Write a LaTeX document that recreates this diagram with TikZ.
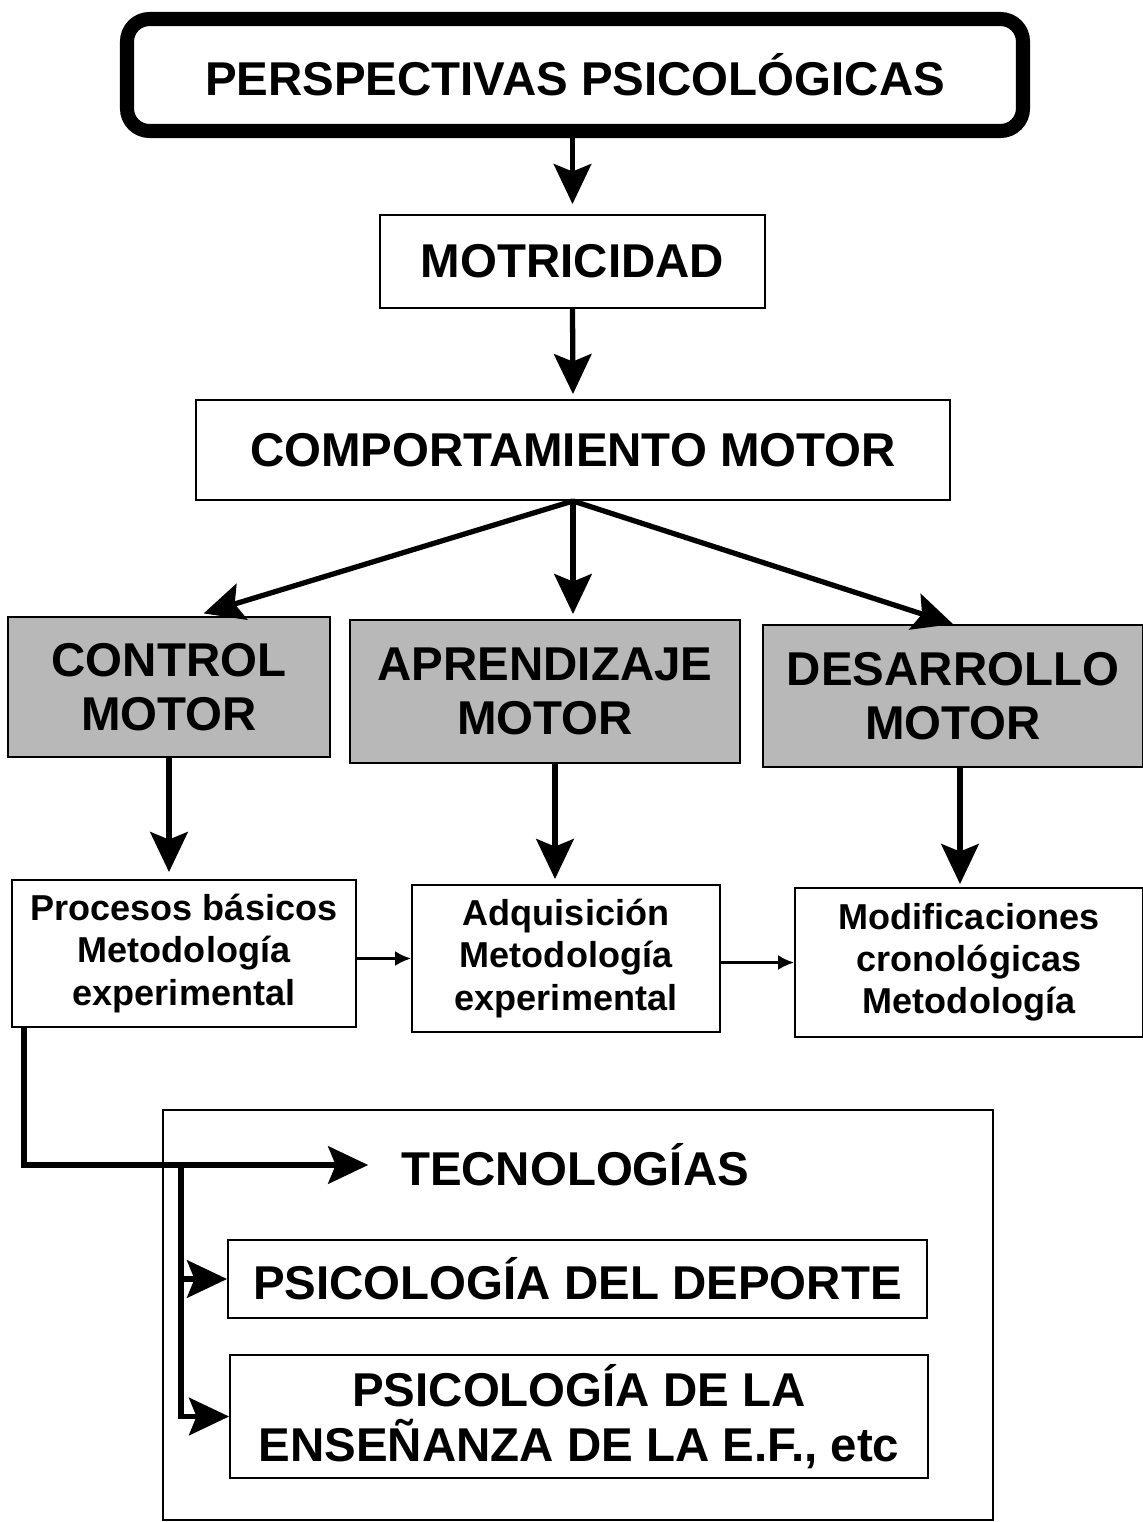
\documentclass[tikz,border=0pt]{standalone}
\usepackage{fontspec}
\setmainfont{Liberation Sans}
\usetikzlibrary{positioning,arrows.meta}

\begin{document}
\begin{tikzpicture}[inner sep=2pt,
  every node/.style={font=\bfseries\fontsize{27}{31}\selectfont,align=center},
  caja/.style={draw,line width=1.1pt},
  gris/.style={draw,fill=black!28,line width=1.1pt},
  chica/.style={draw,line width=1.1pt,font=\bfseries\fontsize{20.5}{24}\selectfont},
  flecha/.style={line width=3pt,-{Stealth[length=0.8cm,width=0.75cm,inset=0.15cm]}},
  flechita/.style={line width=1.4pt,-{Latex[length=0.32cm,width=0.3cm]}}]
\useasboundingbox (0,0) rectangle (22.86,-30.44);
\node [draw,line width=8pt,rounded corners=0.45cm,minimum width=17.92cm,minimum height=2.24cm] (persp) at (11.5,-1.5) {PERSPECTIVAS PSICOLÓGICAS};
\node [caja,minimum width=7.7cm,minimum height=1.86cm] (motr) at (11.45,-5.23) {MOTRICIDAD};
\node [caja,minimum width=15.08cm,minimum height=2cm] (comp) at (11.46,-9) {COMPORTAMIENTO MOTOR};
% las tres ramas
\node [gris,minimum width=6.44cm,minimum height=2.8cm] (ctrl) at (3.38,-13.74) {CONTROL\\MOTOR};
\node [gris,minimum width=7.8cm,minimum height=2.86cm] (aprend) at (10.9,-13.83) {APRENDIZAJE\\MOTOR};
\node [gris,minimum width=7.6cm,minimum height=2.84cm] (desarr) at (19.06,-13.92) {DESARROLLO\\MOTOR};
\node [chica,minimum width=6.88cm,minimum height=2.94cm] (proc) at (3.68,-19.07) {Procesos básicos\\Metodología\\experimental};
\node [chica,minimum width=6.16cm,minimum height=2.94cm] (adq) at (11.32,-19.17) {Adquisición\\Metodología\\experimental};
\node [chica,minimum width=6.96cm,minimum height=2.98cm] (modif) at (19.38,-19.25) {Modificaciones\\cronológicas\\Metodología};
% tecnologias
\node [caja,minimum width=16.6cm,minimum height=8.2cm] (marco) at (11.56,-26.3) {};
\node (tecno) at (11.5,-23.3) {TECNOLOGÍAS};
\node [caja,minimum width=13.98cm,minimum height=1.56cm] (deporte) at (11.55,-25.58) {PSICOLOGÍA DEL DEPORTE};
\node [caja,minimum width=13.96cm,minimum height=2.46cm] (ensen) at (11.58,-28.33) {PSICOLOGÍA DE LA\\ENSEÑANZA DE LA E.F., etc};
\coordinate (split) at (3.62,-23.3);

\draw [flecha,shorten >=0.2cm] (motr.north |- persp.south) -- (motr.north);
\draw [flecha,shorten >=0.1cm] (motr.south) -- (comp.north);
\draw [flecha,shorten >=0.18cm] (comp.south) -- ([xshift=0.52cm]ctrl.north);
\draw [flecha,shorten >=0.1cm] (comp.south) -- (comp.south |- aprend.north);
\draw [flecha] (comp.south) -- (desarr.north);
\draw [flecha,shorten >=0.14cm] (ctrl.south) -- (ctrl.south |- proc.north);
\draw [flecha,shorten >=0.1cm] ([xshift=0.2cm]aprend.south) -- ([xshift=0.2cm]aprend.south |- adq.north);
\draw [flecha,shorten >=0.06cm] ([xshift=0.14cm]desarr.south) -- ([xshift=0.14cm]desarr.south |- modif.north);
\draw [flechita] (adq.west -| proc.east) -- (adq.west);
\draw [flechita] (modif.west -| adq.east) -- (modif.west);
\draw [flecha,shorten >=0.58cm] ([xshift=0.26cm]proc.south west) |- (tecno.west);
\draw [flecha] (split) |- (ensen.west);
\draw [flecha] (split |- deporte.west) -- (deporte.west);
\end{tikzpicture}
\end{document}
